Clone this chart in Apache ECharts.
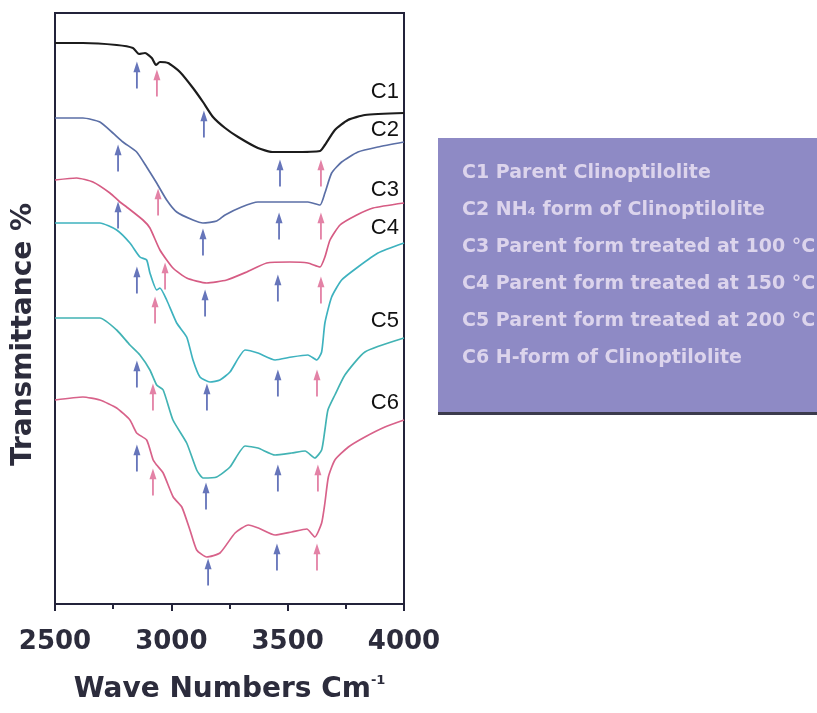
<!DOCTYPE html>
<html>
<head>
<meta charset="utf-8">
<script src="https://cdn.jsdelivr.net/npm/echarts@6/dist/echarts.min.js"></script>
<style>html,body{margin:0;padding:0;background:#fff;}#chart{width:817px;height:713px;}</style>
</head>
<body>
<div id="chart"></div>
<script>
// Wavenumber (cm^-1) vs transmittance (arbitrary, offset-stacked units)
const seriesNames = ['C1', 'C2', 'C3', 'C4', 'C5', 'C6'];
const descriptions = [
  'C1 Parent Clinoptilolite',
  'C2 NH\u2084 form of Clinoptilolite',
  'C3 Parent form treated at 100 \u00B0C',
  'C4 Parent form treated at 150 \u00B0C',
  'C5 Parent form treated at 200 \u00B0C',
  'C6 H-form of Clinoptilolite'
];
const xTicks = [2500, 3000, 3500, 4000];

const c1 = [[2500,561],[2620,561],[2765,559],[2835,556],[2861,550],[2887,551],[2916,546],[2934,539],[2951,542],[2986,541],[3037,532],[3093,516],[3136,502],[3179,487],[3231,476],[3287,467],[3372,456],[3433,452],[3519,452],[3639,453],[3660,459],[3703,474],[3759,484],[3832,489],[4000,491]];
const c2 = [[2500,486],[2620,486],[2693,482],[2749,471],[2792,462],[2851,452],[2894,437],[2937,421],[2980,404],[3023,392],[3093,384],[3136,381],[3195,383],[3231,389],[3302,397],[3372,402],[3517,402],[3587,402],[3639,399],[3660,411],[3689,431],[3732,442],[3802,452],[3888,457],[4000,462]];
const c3 = [[2500,424],[2593,426],[2663,422],[2736,411],[2779,402],[2808,397],[2878,384],[2908,376],[2951,354],[3007,336],[3066,326],[3152,321],[3238,324],[3324,332],[3410,341],[3510,342],[3587,341],[3639,337],[3660,347],[3682,364],[3725,379],[3797,389],[3867,396],[4000,401]];
const c4 = [[2500,381],[2693,381],[2765,374],[2822,361],[2865,347],[2894,344],[2908,331],[2937,314],[2951,316],[2980,304],[3023,281],[3066,267],[3093,244],[3123,227],[3166,222],[3209,224],[3252,232],[3317,254],[3372,251],[3446,244],[3517,247],[3587,249],[3625,244],[3646,252],[3660,281],[3689,307],[3732,324],[3802,337],[3888,351],[4000,361]];
const c5 = [[2500,286],[2693,286],[2765,274],[2822,259],[2865,249],[2908,234],[2937,219],[2965,214],[3007,184],[3066,161],[3109,134],[3136,126],[3195,127],[3252,137],[3317,158],[3372,156],[3446,149],[3517,151],[3575,153],[3617,146],[3646,154],[3660,174],[3673,194],[3703,209],[3746,229],[3832,252],[4000,266]];
const c6 = [[2500,204],[2620,207],[2693,204],[2765,196],[2822,184],[2851,171],[2894,164],[2922,144],[2937,139],[2965,131],[3008,107],[3045,97],[3080,74],[3109,54],[3152,47],[3209,51],[3274,71],[3331,79],[3374,76],[3446,69],[3517,72],[3582,75],[3617,67],[3646,81],[3660,101],[3675,127],[3703,144],[3761,157],[3832,167],[3918,177],[4000,184]];

// band-position arrows [wavenumber, transmittance]
const arrowsBlue = [[2852,529],[3140,480],[2771,446],[3467,431],[2771,389],[3136,362],[3463,378],[2852,324],[3145,301],[3458,316],[2852,230],[3153,207],[3458,221],[2852,146],[3149,108],[3458,126],[3158,32],[3454,47]];
const arrowsPink = [[2938,521],[3643,431],[2943,402],[3643,378],[2973,328],[2930,294],[3643,314],[2921,207],[3626,221],[2921,122],[3630,126],[3626,47]];

// curve tags [wavenumber, transmittance]
const tagPos = [[3918,512],[3918,474],[3918,414],[3918,376],[3918,283],[3918,201]];

const curves = [c1, c2, c3, c4, c5, c6];
const colors = ['#1c1c1c', '#5b6fa6', '#d65c84', '#3eb2bf', '#42b3b4', '#d8628a'];
const arrowPath = 'path://M5,0 L10,12 L6.3,12 L6.3,30 L3.7,30 L3.7,12 L0,12 Z';

const chart = echarts.init(document.getElementById('chart'), null, {renderer: 'canvas'});
const series = curves.map((d, i) => ({
  name: seriesNames[i], type: 'line', data: d, showSymbol: false, smooth: 0.18,
  lineStyle: {color: colors[i], width: i === 0 ? 2.2 : 1.7}, itemStyle: {color: colors[i]}, z: 3
}));
series.push({
  name: 'arrowsBlue', type: 'scatter', data: arrowsBlue, symbol: arrowPath, symbolSize: [7, 27],
  itemStyle: {color: '#5566b2', opacity: 0.9}, z: 4
});
series.push({
  name: 'arrowsPink', type: 'scatter', data: arrowsPink, symbol: arrowPath, symbolSize: [7, 27],
  itemStyle: {color: '#e0749c', opacity: 0.9}, z: 4
});
series.push({
  name: 'tags', type: 'scatter', symbolSize: 0,
  data: tagPos.map((p, i) => ({value: p, name: seriesNames[i]})),
  itemStyle: {color: '#111', opacity: 1},
  label: {show: true, position: 'inside', formatter: '{b}', color: '#111', fontSize: 22,
    fontFamily: 'Liberation Sans', textBorderWidth: 0}, z: 5
});

chart.setOption({
  animation: false,
  backgroundColor: '#ffffff',
  grid: {left: 55, top: 13, width: 349, height: 591, show: true, borderColor: '#23233a', borderWidth: 2},
  graphic: [
    {type: 'rect', shape: {x: 438, y: 138, width: 390, height: 276}, style: {fill: '#8e8ac5'}, z: 0},
    {type: 'rect', shape: {x: 438, y: 412, width: 390, height: 3}, style: {fill: '#3b3b4c'}, z: 0}
  ],
  legend: {
    data: seriesNames, orient: 'vertical', left: 452, top: 157,
    itemWidth: 0, itemHeight: 0, itemGap: 15, icon: 'rect', selectedMode: false,
    formatter: name => descriptions[seriesNames.indexOf(name)],
    textStyle: {color: '#dcd4ec', fontSize: 19, fontWeight: 'bold', fontFamily: 'DejaVu Sans', lineHeight: 22}
  },
  xAxis: {
    type: 'value', min: 2500, max: 4000, interval: 500,
    name: 'Wave Numbers Cm{sup|-1}', nameLocation: 'middle', nameGap: 70,
    nameTextStyle: {color: '#2c2c3c', fontSize: 28, fontWeight: 'bold', fontFamily: 'DejaVu Sans',
      rich: {sup: {fontSize: 13, fontWeight: 'bold', fontFamily: 'DejaVu Sans', color: '#2c2c3c', padding: [0, 0, 18, 0]}}},
    axisLine: {show: true, lineStyle: {color: '#23233a', width: 2}},
    axisTick: {show: true, length: 7, lineStyle: {color: '#23233a', width: 2}},
    minorTick: {show: true, splitNumber: 2, length: 5, lineStyle: {color: '#23233a', width: 2}},
    splitLine: {show: false},
    axisLabel: {color: '#2c2c3c', fontSize: 26, fontWeight: 'bold', fontFamily: 'DejaVu Sans', margin: 25,
      formatter: v => xTicks.includes(v) ? String(v) : ''}
  },
  yAxis: {
    type: 'value', min: 0, max: 591,
    name: 'Transmittance %', nameLocation: 'middle', nameRotate: 90, nameGap: 17,
    nameTextStyle: {color: '#2c2c3c', fontSize: 28, fontWeight: 'bold', fontFamily: 'DejaVu Sans', padding: [0, 52, 0, 0]},
    axisLine: {show: true, lineStyle: {color: '#23233a', width: 2}},
    axisTick: {show: false}, axisLabel: {show: false}, splitLine: {show: false}
  },
  series: series
});
</script>
</body>
</html>
